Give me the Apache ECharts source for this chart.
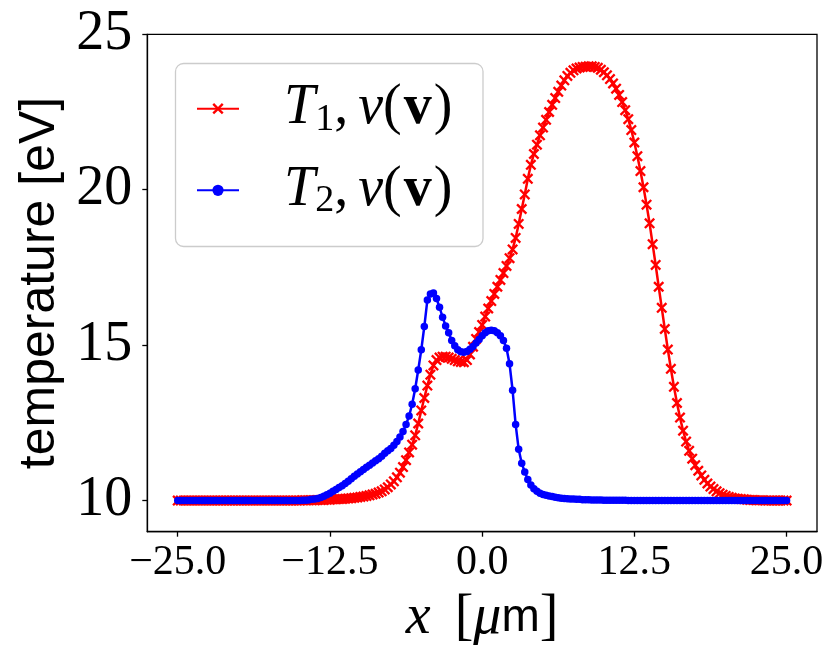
<!DOCTYPE html>
<html>
<head>
<meta charset="utf-8">
<script src="https://cdn.jsdelivr.net/npm/echarts@6/dist/echarts.min.js"></script>
<style>
  html, body { margin: 0; padding: 0; background: #fff; }
  #chart { width: 831px; height: 659px; }
</style>
</head>
<body>
<div id="chart"></div>
<script>
// x grid [µm], step 0.25
const xPos = [
  -25, -24.75, -24.5, -24.25, -24, -23.75, -23.5, -23.25, -23, -22.75, -22.5, -22.25,
  -22, -21.75, -21.5, -21.25, -21, -20.75, -20.5, -20.25, -20, -19.75, -19.5, -19.25,
  -19, -18.75, -18.5, -18.25, -18, -17.75, -17.5, -17.25, -17, -16.75, -16.5, -16.25,
  -16, -15.75, -15.5, -15.25, -15, -14.75, -14.5, -14.25, -14, -13.75, -13.5, -13.25,
  -13, -12.75, -12.5, -12.25, -12, -11.75, -11.5, -11.25, -11, -10.75, -10.5, -10.25,
  -10, -9.75, -9.5, -9.25, -9, -8.75, -8.5, -8.25, -8, -7.75, -7.5, -7.25,
  -7, -6.75, -6.5, -6.25, -6, -5.75, -5.5, -5.25, -5, -4.75, -4.5, -4.25,
  -4, -3.75, -3.5, -3.25, -3, -2.75, -2.5, -2.25, -2, -1.75, -1.5, -1.25,
  -1, -0.75, -0.5, -0.25, 0, 0.25, 0.5, 0.75, 1, 1.25, 1.5, 1.75,
  2, 2.25, 2.5, 2.75, 3, 3.25, 3.5, 3.75, 4, 4.25, 4.5, 4.75,
  5, 5.25, 5.5, 5.75, 6, 6.25, 6.5, 6.75, 7, 7.25, 7.5, 7.75,
  8, 8.25, 8.5, 8.75, 9, 9.25, 9.5, 9.75, 10, 10.25, 10.5, 10.75,
  11, 11.25, 11.5, 11.75, 12, 12.25, 12.5, 12.75, 13, 13.25, 13.5, 13.75,
  14, 14.25, 14.5, 14.75, 15, 15.25, 15.5, 15.75, 16, 16.25, 16.5, 16.75,
  17, 17.25, 17.5, 17.75, 18, 18.25, 18.5, 18.75, 19, 19.25, 19.5, 19.75,
  20, 20.25, 20.5, 20.75, 21, 21.25, 21.5, 21.75, 22, 22.25, 22.5, 22.75,
  23, 23.25, 23.5, 23.75, 24, 24.25, 24.5, 24.75, 25
];

// T1, nu(v)  [eV]
const tempT1 = [
  10.00, 10.00, 10.00, 10.00, 10.00, 10.00, 10.00, 10.00, 10.00, 10.00, 10.00, 10.00,
  10.00, 10.00, 10.00, 10.00, 10.00, 10.00, 10.00, 10.00, 10.00, 10.00, 10.00, 10.00,
  10.00, 10.00, 10.00, 10.00, 10.00, 10.00, 10.00, 10.00, 10.00, 10.00, 10.00, 10.00,
  10.00, 10.00, 10.00, 10.00,
  10.00, 10.01, 10.01, 10.01,  // -15
  10.01, 10.01, 10.02, 10.02,  // -14
  10.02, 10.03, 10.03, 10.04,  // -13
  10.04, 10.05, 10.05, 10.06,  // -12
  10.07, 10.08, 10.09, 10.10,  // -11
  10.12, 10.13, 10.15, 10.17,  // -10
  10.20, 10.22, 10.26, 10.30,  // -9
  10.36, 10.43, 10.52, 10.62,  // -8
  10.75, 10.90, 11.08, 11.30,  // -7
  11.55, 11.80, 12.10, 12.48,  // -6
  12.90, 13.30, 13.70, 14.05,  // -5
  14.35, 14.52, 14.60, 14.63,  // -4
  14.63, 14.60, 14.56, 14.52,  // -3
  14.48, 14.46, 14.45, 14.52,  // -2
  14.70, 14.95, 15.20, 15.42,  // -1
  15.65, 15.92, 16.18, 16.42,  // 0
  16.65, 16.88, 17.10, 17.32,  // 1
  17.55, 17.80, 18.08, 18.45,  // 2
  18.90, 19.38, 19.85, 20.35,  // 3
  20.80, 21.15, 21.45, 21.75,  // 4
  22.00, 22.25, 22.50, 22.73,  // 5
  22.95, 23.15, 23.35, 23.52,  // 6
  23.66, 23.76, 23.84, 23.90,  // 7
  23.93, 23.95, 23.96, 23.97,  // 8
  23.97, 23.95, 23.92, 23.86,  // 9
  23.78, 23.68, 23.56, 23.42,  // 10
  23.25, 23.05, 22.82, 22.56,  // 11
  22.27, 21.92, 21.52, 21.08,  // 12
  20.60, 20.08, 19.52, 18.92,  // 13
  18.25, 17.58, 16.88, 16.20,  // 14
  15.52, 14.86, 14.24, 13.66,  // 15
  13.14, 12.67, 12.25, 11.90,  // 16
  11.60, 11.35, 11.14, 10.96,  // 17
  10.81, 10.67, 10.55, 10.45,  // 18
  10.37, 10.30, 10.24, 10.19,  // 19
  10.15, 10.12, 10.09, 10.07,  // 20
  10.06, 10.05, 10.04, 10.03,  // 21
  10.02, 10.02, 10.01, 10.01,  // 22
  10.01, 10.00, 10.00, 10.00, 10.00, 10.00, 10.00, 10.00, 10.00
];

// T2, nu(v)  [eV]
const tempT2 = [
  10.00, 10.00, 10.00, 10.00, 10.00, 10.00, 10.00, 10.00, 10.00, 10.00, 10.00, 10.00,
  10.00, 10.00, 10.00, 10.00, 10.00, 10.00, 10.00, 10.00, 10.00, 10.00, 10.00, 10.00,
  10.00, 10.00, 10.00, 10.00, 10.00, 10.00, 10.00, 10.00, 10.00, 10.00, 10.00, 10.00,
  10.00, 10.00, 10.00, 10.00,
  10.00, 10.01, 10.01, 10.02,  // -15
  10.04, 10.05, 10.07, 10.10,  // -14
  10.14, 10.19, 10.24, 10.30,  // -13
  10.36, 10.42, 10.48, 10.55,  // -12
  10.62, 10.70, 10.78, 10.86,  // -11
  10.93, 11.00, 11.07, 11.14,  // -10
  11.21, 11.28, 11.35, 11.43,  // -9
  11.52, 11.60, 11.68, 11.78,  // -8
  11.90, 12.05, 12.22, 12.45,  // -7
  12.72, 13.10, 13.60, 14.20,  // -6
  14.85, 15.60, 16.45, 16.65,  // -5
  16.68, 16.50, 16.22, 15.90,  // -4
  15.62, 15.40, 15.15, 14.98,  // -3
  14.85, 14.79, 14.77, 14.80,  // -2
  14.87, 14.96, 15.07, 15.18,  // -1
  15.30, 15.40, 15.46, 15.48,  // 0
  15.46, 15.40, 15.30, 15.15,  // 1
  14.90, 14.40, 13.55, 12.45,  // 2
  11.65, 11.20, 10.92, 10.68,  // 3
  10.50, 10.38, 10.30, 10.24,  // 4
  10.20, 10.17, 10.15, 10.13,  // 5
  10.11, 10.09, 10.08, 10.07,  // 6
  10.06, 10.05, 10.05, 10.04,  // 7
  10.04, 10.03, 10.03, 10.03,  // 8
  10.02, 10.02, 10.02, 10.02,  // 9
  10.01, 10.01, 10.01, 10.01,  // 10
  10.01, 10.01, 10.01, 10.01,  // 11
  10.00, 10.00, 10.00, 10.00, 10.00, 10.00, 10.00, 10.00, 10.00, 10.00, 10.00, 10.00,
  10.00, 10.00, 10.00, 10.00, 10.00, 10.00, 10.00, 10.00, 10.00, 10.00, 10.00, 10.00,
  10.00, 10.00, 10.00, 10.00, 10.00, 10.00, 10.00, 10.00, 10.00, 10.00, 10.00, 10.00,
  10.00, 10.00, 10.00, 10.00, 10.00, 10.00, 10.00, 10.00, 10.00, 10.00, 10.00, 10.00,
  10.00, 10.00, 10.00, 10.00, 10.00
];

const xTicks = [-25, -12.5, 0, 12.5, 25];
const yTicks = [10, 15, 20, 25];

const serif = 'Liberation Serif';
const sans = 'Liberation Sans';

// matplotlib 'x' marker
const crossPath = 'path://M1.5,0 L5,3.5 L8.5,0 L10,1.5 L6.5,5 L10,8.5 L8.5,10 L5,6.5 L1.5,10 L0,8.5 L3.5,5 L0,1.5 Z';

function pairs(ys) {
  let out = [];
  for (let i = 0; i < xPos.length; i++) {
    out.push([xPos[i], ys[i]]);
  }
  return out;
}

const chart = echarts.init(document.getElementById('chart'));

const option = {
  animation: false,
  backgroundColor: '#ffffff',
  grid: {
    left: 147.3, right: 14, top: 34.3, bottom: 127.3,
    show: true, borderColor: '#000', borderWidth: 1.3
  },
  graphic: [{
    type: 'rect', z: 3,
    shape: { x: 175.5, y: 63.5, width: 307.5, height: 183, r: 8 },
    style: { fill: 'rgba(255,255,255,0.8)', stroke: '#cccccc', lineWidth: 1.3 }
  }],
  legend: {
    orient: 'vertical',
    left: 196, top: 80.7, padding: 0,
    itemGap: 23.6, itemWidth: 42, itemHeight: 14,
    data: ['T1', 'T2'],
    formatter: function (name) {
      const k = name === 'T1' ? '1' : '2';
      return '{it|T}{sub|' + k + '}{n|,}{it2|ν}{n|(}{b|v}{n|)}';
    },
    textStyle: {
      padding: [0, 0, 0, 40],
      rich: {
        it: { fontFamily: serif, fontStyle: 'italic', fontSize: 56, lineHeight: 60, color: '#000' },
        it2: { fontFamily: serif, fontStyle: 'italic', fontSize: 56, lineHeight: 60, color: '#000', padding: [0, 0, 0, 10] },
        sub: { fontFamily: serif, fontSize: 38, lineHeight: 30, verticalAlign: 'bottom', color: '#000' },
        n: { fontFamily: serif, fontSize: 56, lineHeight: 60, color: '#000' },
        b: { fontFamily: serif, fontWeight: 'bold', fontSize: 56, lineHeight: 60, color: '#000', padding: [0, 2, 0, 2] }
      }
    }
  },
  xAxis: {
    type: 'value', min: -27.5, max: 27.5,
    axisLine: { show: true, onZero: false, lineStyle: { color: '#000', width: 1.3 } },
    axisTick: { show: true, length: 5, customValues: xTicks, lineStyle: { color: '#000', width: 1.3 } },
    axisLabel: {
      customValues: xTicks,
      formatter: v => v.toFixed(1).replace('-', '\u2212'),
      fontFamily: serif, fontSize: 42, color: '#000', margin: 10
    },
    splitLine: { show: false },
    name: '{it|x}{br|[}{it|μ}{sf|m}{n|]}',
    nameLocation: 'middle', nameGap: 57,
    nameTextStyle: {
      rich: {
        it: { fontFamily: serif, fontStyle: 'italic', fontSize: 56, lineHeight: 60, color: '#000' },
        br: { fontFamily: serif, fontSize: 56, lineHeight: 60, color: '#000', padding: [0, 0, 0, 24] },
        sf: { fontFamily: sans, fontSize: 46, lineHeight: 60, color: '#000' },
        n: { fontFamily: serif, fontSize: 56, lineHeight: 60, color: '#000' }
      }
    }
  },
  yAxis: {
    type: 'value', min: 9, max: 25,
    axisLine: { show: true, onZero: false, lineStyle: { color: '#000', width: 1.3 } },
    axisTick: { show: true, length: 5, customValues: yTicks, lineStyle: { color: '#000', width: 1.3 } },
    axisLabel: {
      customValues: yTicks,
      formatter: v => String(v),
      fontFamily: serif, fontSize: 56, color: '#000', margin: 15
    },
    splitLine: { show: false },
    name: 'temperature [eV]',
    nameLocation: 'middle', nameGap: 80,
    nameTextStyle: { fontFamily: sans, fontSize: 50, color: '#000' }
  },
  series: [{
    name: 'T1', type: 'line', z: 2,
    data: pairs(tempT1),
    symbol: crossPath, symbolSize: 11,
    lineStyle: { color: '#ff0000', width: 2.5 },
    itemStyle: { color: '#ff0000' },
    emphasis: { disabled: true }
  }, {
    name: 'T2', type: 'line', z: 3,
    data: pairs(tempT2),
    symbol: 'circle', symbolSize: 7.5,
    lineStyle: { color: '#0000ff', width: 2.5 },
    itemStyle: { color: '#0000ff' },
    emphasis: { disabled: true }
  }]
};

chart.setOption(option);
</script>
</body>
</html>
